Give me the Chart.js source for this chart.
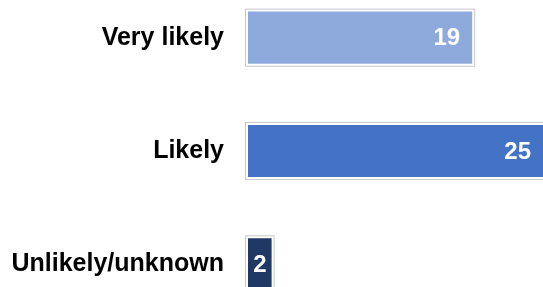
<!DOCTYPE html>
<html>
<head>
<meta charset="utf-8">
<script src="https://cdn.jsdelivr.net/npm/chart.js@4/dist/chart.umd.min.js"></script>
<style>
  html, body { margin: 0; padding: 0; background: #fff; overflow: hidden; }
  body { width: 543px; height: 287px; position: relative; }
  #chartLikely { position: absolute; left: 0; top: -19px; }
</style>
</head>
<body>
<canvas id="chartLikely" width="543" height="340"></canvas>
<script>
/* dados */
const categorias = ["Very likely", "Likely", "Unlikely/unknown"];
const valores = [19, 25, 2];
const cores = ["#8eaadc", "#4472c4", "#203864"];
const eixoMax = 25;

/* moldura cinza + rótulos brancos */
const barExtras = {
  id: "barExtras",
  afterDatasetsDraw(chart) {
    const ctx = chart.ctx;
    const meta = chart.getDatasetMeta(0);
    ctx.save();
    meta.data.forEach((bar, i) => {
      const left = Math.min(bar.x, bar.base);
      const right = Math.max(bar.x, bar.base);
      const top = bar.y - bar.height / 2;
      const h = bar.height;

      ctx.strokeStyle = "#c8c8c8";
      ctx.lineWidth = 1;
      ctx.strokeRect(left - 2.5, top - 2.5, right - left + 5, h + 5);

      ctx.fillStyle = "#fff";
      ctx.font = "bold 24px 'Liberation Sans', Arial, sans-serif";
      ctx.textBaseline = "middle";
      const txt = String(valores[i]);
      if (right - left < 40) {
        ctx.textAlign = "center";
        ctx.fillText(txt, (left + right) / 2, bar.y + 1);
      } else {
        ctx.textAlign = "right";
        ctx.fillText(txt, right - 12, bar.y + 1);
      }
    });
    ctx.restore();
  }
};

new Chart(document.getElementById("chartLikely"), {
  type: "bar",
  data: {
    labels: categorias,
    datasets: [{
      data: valores,
      backgroundColor: cores,
      borderWidth: 0,
      barPercentage: 0.46,
      categoryPercentage: 1
    }]
  },
  options: {
    indexAxis: "y",
    responsive: false,
    animation: false,
    layout: { padding: 0, autoPadding: false },
    plugins: {
      legend: { display: false },
      tooltip: { enabled: false }
    },
    scales: {
      x: {
        min: 0,
        max: eixoMax,
        display: false
      },
      y: {
        grid: { display: false, drawTicks: false },
        border: { display: false },
        afterFit(scale) {
          scale.width = 248;
          scale.paddingTop = 0;
          scale.paddingBottom = 0;
        },
        ticks: {
          color: "#000",
          padding: 24,
          font: { family: "'Liberation Sans', Arial, sans-serif", size: 25, weight: "bold" }
        }
      }
    }
  },
  plugins: [barExtras]
});
</script>
</body>
</html>
